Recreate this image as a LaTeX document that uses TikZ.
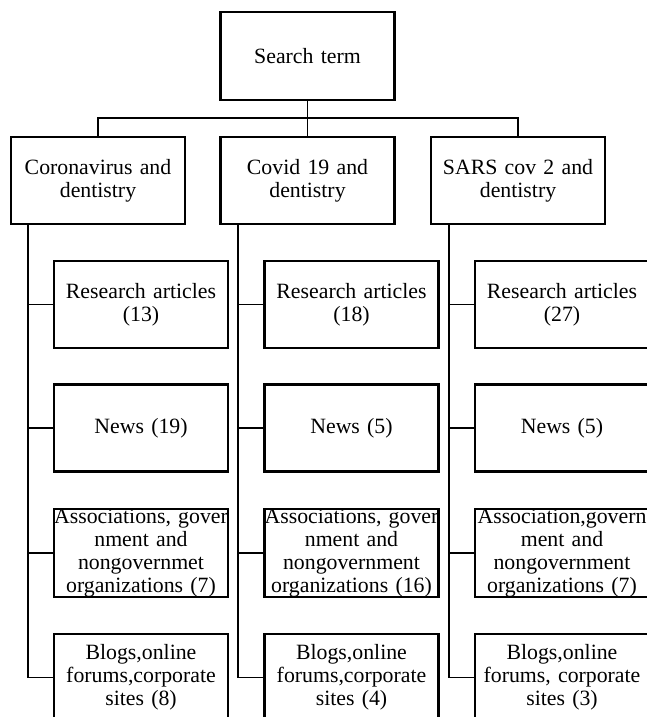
\documentclass[tikz,border=0pt]{standalone}
\usepackage{fontspec}
\setmainfont{Liberation Serif}
\begin{document}
\begin{tikzpicture}[x=1pt,y=1pt,
  box/.style={draw=black, line width=2.2pt, minimum height=87pt, text width=174pt, inner sep=0pt,
    align=center, font={\fontsize{21.8}{22.8}\selectfont\spaceskip=3.6pt plus 1pt minus 1pt}},
  conn/.style={draw=black, line width=1.8pt}]
\useasboundingbox (0,0) rectangle (647,-717);
\clip (0,0) rectangle (647,-717);
% top
\node[box, minimum height=88pt] (search) at (307.5,-56) {Search term};
\node[box] (l1) at (98,-180.5) {Coronavirus and\\dentistry};
\node[box] (l2) at (307.5,-180.5) {Covid 19 and\\dentistry};
\node[box] (l3) at (518,-180.5) {SARS cov 2 and\\dentistry};
\coordinate (bus) at (307.5,-118);
\draw[conn] (search.south) -- (l2.north);
\draw[conn] (l1.north) -- (l1.north |- bus) -- (l3.north |- bus) -- (l3.north);
% column 1
\node[box] (a1) at (141,-304.5) {Research articles\\(13)};
\node[box] (a2) at (141,-428) {News (19)};
\node[box] (a3) at (141,-553) {Associations, gover\\nment and\\nongovernmet\\organizations (7)};
\node[box] (a4) at (141,-677.5) {Blogs,online\\forums,corporate\\sites (8)};
% column 2
\node[box] (b1) at (351.5,-304.5) {Research articles\\(18)};
\node[box] (b2) at (351.5,-428) {News (5)};
\node[box] (b3) at (351.5,-553) {Associations, gover\\nment and\\nongovernment\\organizations (16)};
\node[box] (b4) at (351.5,-677.5) {Blogs,online\\forums,corporate\\sites (4)};
% column 3
\node[box] (c1) at (562,-304.5) {Research articles\\(27)};
\node[box] (c2) at (562,-428) {News (5)};
\node[box] (c3) at (562,-553) {Association,govern\\ment and\\nongovernment\\organizations (7)};
\node[box] (c4) at (562,-677.5) {Blogs,online\\forums, corporate\\sites (3)};
% trunks
\coordinate (k1) at (28,-224);
\coordinate (k2) at (238,-224);
\coordinate (k3) at (449,-224);
\draw[conn] (k1) |- (a4.west);
\draw[conn] (k2) |- (b4.west);
\draw[conn] (k3) |- (c4.west);
\foreach \n/\k in {a1/k1,a2/k1,a3/k1,b1/k2,b2/k2,b3/k2,c1/k3,c2/k3,c3/k3}{
  \draw[conn] (\n.west) -- (\n.west -| \k);
}
\end{tikzpicture}
\end{document}
